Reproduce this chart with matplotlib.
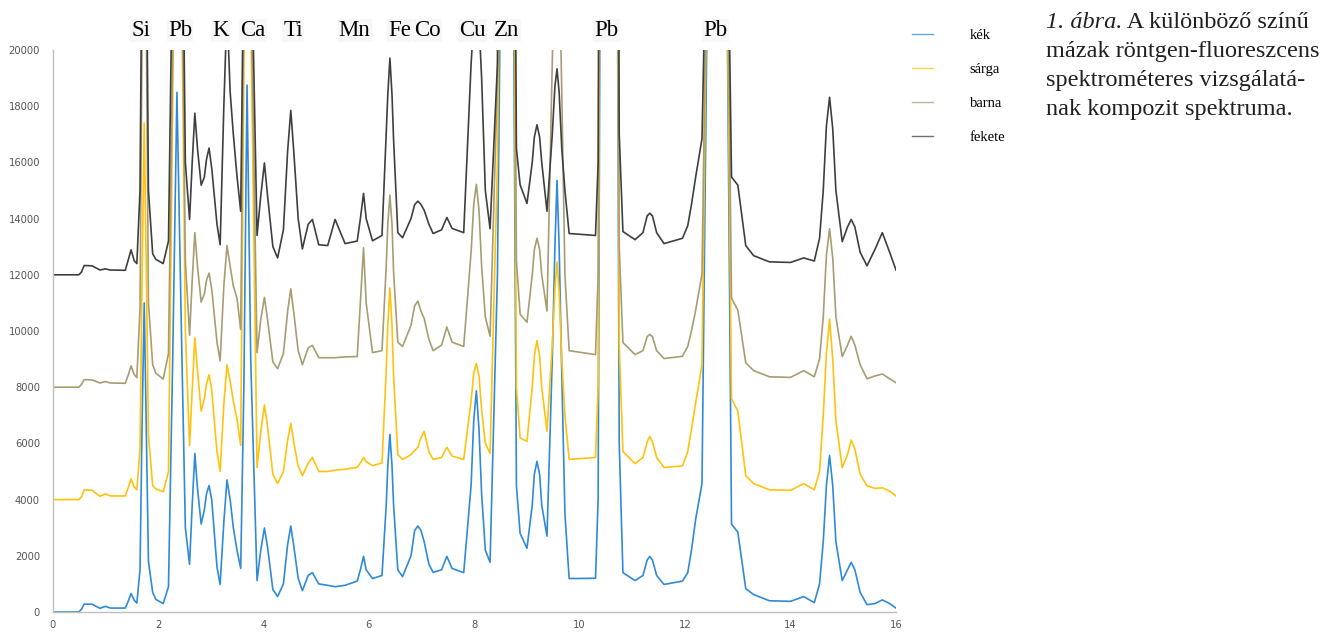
import matplotlib
matplotlib.use("Agg")
import matplotlib.pyplot as plt
from matplotlib.lines import Line2D

# energy grid (keV) shared by all four spectra
energy = [
    0.0, 0.5, 0.55, 0.6, 0.75, 0.9, 1.0, 1.1, 1.38, 1.44,
    1.49, 1.55, 1.6, 1.66, 1.70, 1.74, 1.78, 1.82, 1.9, 1.96,
    2.1, 2.2, 2.28, 2.36, 2.44, 2.52, 2.6, 2.65, 2.7, 2.75,
    2.82, 2.88, 2.92, 2.97, 3.02, 3.12, 3.18, 3.25, 3.31, 3.37,
    3.43, 3.5, 3.57, 3.63, 3.69, 3.76, 3.88, 3.95, 4.02, 4.08,
    4.18, 4.27, 4.38, 4.46, 4.52, 4.58, 4.66, 4.74, 4.85, 4.93,
    5.05, 5.22, 5.36, 5.55, 5.78, 5.84, 5.9, 5.95, 6.07, 6.25,
    6.33, 6.36, 6.4, 6.44, 6.47, 6.55, 6.64, 6.8, 6.87, 6.93,
    6.99, 7.05, 7.14, 7.22, 7.38, 7.48, 7.58, 7.8, 7.94, 7.99,
    8.04, 8.09, 8.14, 8.21, 8.3, 8.44, 8.55, 8.63, 8.72, 8.8,
    8.87, 9.0, 9.1, 9.14, 9.19, 9.24, 9.28, 9.38, 9.48, 9.53,
    9.57, 9.61, 9.66, 9.72, 9.8, 10.3, 10.35, 10.42, 10.55, 10.68,
    10.75, 10.82, 11.05, 11.2, 11.28, 11.33, 11.38, 11.46, 11.6, 11.95,
    12.05, 12.12, 12.2, 12.32, 12.42, 12.6, 12.8, 12.88, 13.0, 13.15,
    13.3, 13.6, 14.0, 14.25, 14.45, 14.55, 14.62, 14.68, 14.74, 14.8,
    14.86, 14.98, 15.08, 15.15, 15.22, 15.32, 15.45, 15.6, 15.74, 15.88,
    16.0,
]

kek = [
    0, 0, 100, 280, 280, 130, 200, 140, 140, 400,
    660, 420, 320, 1500, 6800, 11000, 6500, 1800, 700, 450,
    300, 900, 9000, 18490, 10500, 3000, 1700, 3800, 5640, 4400,
    3130, 3630, 4200, 4500, 4000, 1600, 980, 3200, 4700, 4000,
    3000, 2200, 1550, 8000, 18750, 9000, 1120, 2200, 2990, 2300,
    800, 550, 1000, 2400, 3060, 2300, 1200, 760, 1300, 1400,
    1000, 950, 900, 950, 1100, 1500, 1980, 1500, 1190, 1300,
    3800, 5200, 6320, 5200, 3800, 1500, 1260, 2000, 2900, 3060,
    2900, 2500, 1700, 1410, 1500, 1980, 1550, 1400, 4500, 6800,
    7870, 6500, 4200, 2200, 1770, 12000, 32000, 40000, 30000, 4500,
    2800, 2270, 3800, 4900, 5360, 4900, 3800, 2700, 9000, 13000,
    15360, 13000, 8500, 3500, 1190, 1200, 4000, 40000, 70000, 40000,
    6000, 1400, 1120, 1300, 1850, 1980, 1850, 1300, 980, 1100,
    1400, 2200, 3300, 4570, 22000, 60000, 21000, 3130, 2840, 830,
    620, 400, 380, 550, 330, 1000, 2500, 4500, 5570, 4500,
    2500, 1120, 1500, 1770, 1500, 700, 260, 300, 430, 300,
    140,
]

sarga = [
    4000, 4000, 4100, 4350, 4330, 4120, 4200, 4130, 4130, 4450,
    4740, 4450, 4350, 5800, 12000, 17400, 12000, 6300, 4500, 4380,
    4280, 5000, 18000, 32000, 24000, 10000, 5930, 7900, 9760, 8600,
    7150, 7580, 8100, 8440, 7900, 5700, 5000, 7400, 8800, 8200,
    7500, 6860, 5930, 19000, 34000, 21500, 5140, 6400, 7370, 6600,
    4900, 4570, 5000, 6100, 6720, 6000, 5200, 4850, 5300, 5500,
    5000, 5000, 5050, 5080, 5150, 5300, 5500, 5350, 5210, 5300,
    8600, 10200, 11530, 10200, 8400, 5600, 5430, 5600, 5750, 5860,
    6200, 6430, 5700, 5430, 5500, 5860, 5550, 5430, 7500, 8500,
    8840, 8400, 7200, 6000, 5640, 16000, 36000, 45000, 34000, 8000,
    6200, 6070, 8000, 9100, 9660, 9100, 8000, 6430, 9500, 11500,
    12460, 11400, 9000, 7000, 5430, 5500, 8000, 45000, 75000, 45000,
    9500, 5710, 5280, 5500, 6050, 6250, 6050, 5500, 5140, 5200,
    5710, 6500, 7440, 8800, 24000, 65000, 22000, 7580, 7150, 4850,
    4570, 4350, 4330, 4570, 4350, 5000, 7000, 9200, 10420, 9000,
    6800, 5140, 5600, 6120, 5800, 4900, 4490, 4400, 4420, 4300,
    4130,
]

barna = [
    8000, 8000, 8100, 8270, 8260, 8150, 8200, 8150, 8140, 8450,
    8760, 8450, 8340, 10800, 21000, 30000, 21000, 11000, 8800, 8500,
    8290, 9200, 20000, 36000, 26000, 12500, 9850, 11800, 13500, 12300,
    11030, 11310, 11800, 12060, 11500, 9600, 8940, 11600, 13040, 12300,
    11600, 11170, 10050, 22000, 38000, 23000, 9230, 10400, 11200, 10400,
    8900, 8660, 9200, 10700, 11500, 10600, 9300, 8800, 9400, 9490,
    9050, 9050, 9050, 9080, 9090, 11000, 12960, 11000, 9230, 9300,
    12300, 13800, 14830, 13800, 12100, 9600, 9450, 10200, 10900, 11060,
    10700, 10450, 9700, 9300, 9500, 10140, 9600, 9450, 12800, 14500,
    15220, 14300, 12300, 10500, 9810, 19000, 40000, 50000, 38000, 12500,
    10600, 10310, 12000, 12900, 13300, 12900, 12000, 10710, 19500, 24000,
    26000, 23500, 18500, 12000, 9300, 9160, 12000, 50000, 80000, 50000,
    13000, 9590, 9160, 9300, 9800, 9880, 9800, 9300, 9020, 9100,
    9450, 10000, 10740, 12030, 25000, 70000, 24000, 11170, 10740, 8870,
    8590, 8370, 8350, 8590, 8370, 9000, 10500, 12700, 13640, 12600,
    10500, 9090, 9500, 9810, 9500, 8800, 8300, 8400, 8470, 8300,
    8160,
]

fekete = [
    12000, 12000, 12100, 12330, 12320, 12170, 12210, 12170, 12160, 12550,
    12890, 12500, 12400, 15000, 24500, 38000, 24500, 15000, 12750, 12550,
    12400, 13200, 24000, 40000, 30000, 16000, 13970, 16000, 17750, 16500,
    15190, 15470, 16100, 16510, 15800, 13800, 13070, 18000, 21500, 18500,
    17000, 15500, 14260, 24000, 42000, 25000, 13400, 14800, 15980, 14800,
    13000, 12600, 13600, 16400, 17850, 16300, 14000, 12920, 13800, 13970,
    13070, 13040, 13970, 13110, 13200, 14000, 14900, 14000, 13210, 13400,
    17000, 18400, 19710, 18400, 16800, 13500, 13320, 14000, 14500, 14620,
    14500, 14300, 13800, 13470, 13600, 14040, 13650, 13500, 19500, 21000,
    22000, 21000, 19000, 15000, 13640, 19500, 44000, 55000, 42000, 16500,
    15200, 14540, 16000, 16900, 17340, 16900, 16000, 14260, 17000, 18700,
    19330, 18500, 16500, 15000, 13470, 13400, 16000, 55000, 85000, 55000,
    17000, 13540, 13250, 13500, 14100, 14190, 14100, 13500, 13110, 13300,
    13750, 14500, 15480, 16840, 26000, 75000, 26000, 15480, 15190, 13040,
    12680, 12460, 12440, 12600, 12490, 13300, 15000, 17300, 18320, 17200,
    15000, 13180, 13700, 13970, 13700, 12800, 12320, 12900, 13500, 12800,
    12170,
]

series_names = ["kék", "sárga", "barna", "fekete"]
series_colors = ["#2f8ad8", "#ffc20e", "#a89d72", "#3f3f3f"]

# element labels across the top, x in keV
elem_labels = ["Si", "Pb", "K", "Ca", "Ti", "Mn", "Fe", "Co", "Cu", "Zn", "Pb", "Pb"]
elem_x = [1.68, 2.42, 3.19, 3.8, 4.56, 5.73, 6.59, 7.12, 7.97, 8.62, 10.51, 12.58]

caption_lines = ["mázak röntgen-fluoreszcens",
                 "spektrométeres vizsgálatá-",
                 "nak kompozit spektruma."]

W, H = 1321, 632
fig = plt.figure(figsize=(W / 100, H / 100), dpi=100)
ax = fig.add_axes([52.5 / W, 20 / H, (896 - 52.5) / W, (612 - 50) / H])

for ys, name, col in zip([kek, sarga, barna, fekete], series_names, series_colors):
    ax.plot(energy, ys, color=col, lw=1.2, label=name)

ax.set_xlim(0, 16)
ax.set_ylim(0, 20000)
ax.set_xticks(range(0, 17, 2))
ax.set_yticks(range(0, 20001, 2000))
for s in ["top", "right"]:
    ax.spines[s].set_visible(False)
for s in ["left", "bottom"]:
    ax.spines[s].set_color("#bfbfbf")
    ax.spines[s].set_linewidth(1.0)
ax.tick_params(axis="both", length=0, labelsize=7.2, labelcolor="#555555")
ax.tick_params(axis="y", pad=9)
ax.tick_params(axis="x", pad=6)

serif = ["Liberation Serif", "DejaVu Serif"]

for lab, x in zip(elem_labels, elem_x):
    ax.text(x, 20700, lab, ha="center", va="center", family=serif,
            fontsize=16.5, color="black",
            bbox=dict(facecolor="#f7f7f7", edgecolor="none", pad=0.8))

# legend: short, light handles
handles = [Line2D([0], [0], color=c, lw=1.0, alpha=0.75) for c in series_colors]
fig.legend(handles, series_names, loc="upper left",
           bbox_to_anchor=(899 / W, 1 - 16 / H), frameon=False,
           prop={"family": serif, "size": 10.5}, handlelength=1.45,
           handletextpad=2.5, labelspacing=1.42)

# caption with italic figure number
cap_x = 1046 / W
fs_cap = 17.5
t1 = fig.text(cap_x, 1 - 23 / H, "1. ábra.", family=serif, style="italic",
              fontsize=fs_cap, va="center", ha="left", color="#231f20")
fig.canvas.draw()
bb = t1.get_window_extent(renderer=fig.canvas.get_renderer())
fig.text(bb.x1 / W, 1 - 23 / H, " A különböző színű", family=serif,
         fontsize=fs_cap, va="center", ha="left", color="#231f20")
for i, line in enumerate(caption_lines):
    fig.text(cap_x, 1 - (52 + i * 28.7) / H, line, family=serif,
             fontsize=fs_cap, va="center", ha="left", color="#231f20")

fig.savefig("out.png", dpi=100)
